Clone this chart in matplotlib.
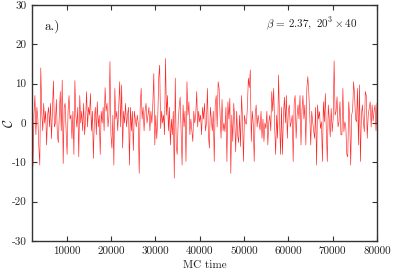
import numpy as np
import matplotlib
matplotlib.use("Agg")
import matplotlib.pyplot as plt

plt.rcParams["font.family"] = ["cmr10", "DejaVu Serif"]
plt.rcParams["mathtext.fontset"] = "cm"
plt.rcParams["axes.unicode_minus"] = False
plt.rcParams["axes.formatter.use_mathtext"] = True

# values, left to right
seg1 = [0, -11, 2, 7, -3, 4, 1, -6, -10.7, 14, 3, -2, 5, 0, 3, -5.6, 2, 4, -1, 5,
        -4, 3, 10.7, -1, 0, 6, -3, -5, 2, 8, -2, 10.9, -10.3, 4, 5, -2, -8, 3, 7, 1,
        2, -4, 3, -8, 10.8, 2, -1, 4, -8.6, 7, 0, 3, -2, 5, -3, 1, 8, -1, 4, 2]
seg2 = [7.5, -2, 3, -9, 1, 4, -3, 5.4, -1, 2, -8, 3, 0, 4, -2, 9, 3, 5, -1, 2,
        15.6, -3, -6.4, 2, -10.7, 8.8, 1, 3, -2, 4, 10.5, -1, 9.7, -6.4, 3, 0, 5, -1, 2, 4,
        -10.7, 4, -2, 3, -7, 3, 1, -1, 2, 0, -12.8, 4, 8.8, 1, 4, -2, 3, 5, 0, 2]
seg3 = [4, -2, 3, 0, 5, 12.6, -5.6, 2, -4, 1, 11.4, 14.7, -1.4, 3, 0, 2, -3, 16.4, 2, 7,
        -2, 4, -5.6, 1, -3, 3, -14, 11.4, -6, -8, 0.3, 4, 6.6, -2, -10.7, 4.6, -1, 3, -9.8, 10.5,
        2, 5.4, -3, 1, -2, -4.7, 3, 0, 2, 8, -1, 3, 0.3, 2, -3, 4, 1, 5, -2, 0]
seg4 = [8.8, -3, -6.4, 4, 1, -2, 3, -9.8, 4.6, 7, -1, 10.5, 8.8, 2, -3.9, 6, -2, 0, -2.2, 4,
        -9.8, 5.4, 1, 6.3, -12.8, 2, -4.7, 5, 1, -7.3, 3, -3, -5, 2, -6, 7, 1, -9.8, 2, 0,
        -0.3, 4, 11.4, 9, 13.5, -4.7, 3, 0, -9.8, 2, 4.6, -1, 2, 0, -1.8, 3, -3.9, 1, -4.7, 0]
seg5 = [-1.4, 3, -5.6, 0.3, 2, -2, 8, 3, 8.8, -1, -8, 2, -3.9, 12.2, 1, -8, 4, -8, 2, 6.6,
        0, 7, -3.9, 3, 4.6, -1, 0.3, 2, -9.8, 5, 7, -3.9, 2, 4.6, 1, 7, -5.6, 3, 7, 1,
        4.6, -5.6, 8.8, 11.8, 7.8, 2, -5.6, 3, 0.3, -2, -3.9, 4, -10.7, 4.6, 1, 2.9, -1.4, 0.3, -9.8, 5.4]
seg6 = [0.3, 7.5, -2, -9.8, 4.6, 1, -3.5, 3.7, -2.2, 1, 15.8, 2, 2.9, 6.7, -1, 0.3, 5.4, -3, -3, 8.8,
        -2.2, 0.3, -1, -8, -8.6, 5.4, 1.2, -10.7, 2, 3.3, 10.5, 7, 1, 0.3, 8.8, -5.6, 9.7, -9.8, 2, 4.6,
        0.3, -2.2, 8, 7, -3.9, 2, 3.7, 5.4, -1, 4.6, 0.5, 3, 4.6, -2, 5]
c_values = np.array(seg1 + seg2 + seg3 + seg4 + seg5 + seg6)

t_start, t_end = 2150, 80000
mc_time = np.linspace(t_start, t_end, len(c_values))

xticks = [10000, 20000, 30000, 40000, 50000, 60000, 70000, 80000]
yticks = [-30, -20, -10, 0, 10, 20, 30]

fig = plt.figure(figsize=(4.07, 2.73), dpi=100)
ax = fig.add_axes([32 / 407, 32 / 273, 345 / 407, 236 / 273])

ax.plot(mc_time, c_values, color="#ff0000", lw=0.45, alpha=0.85)

ax.set_xlim(t_start, t_end)
ax.set_ylim(-30, 30)
ax.set_xticks(xticks)
ax.set_yticks(yticks)
ax.set_xticklabels([str(t) for t in xticks])
ax.set_yticklabels([str(t) for t in yticks])
ax.tick_params(direction="in", length=3.5, width=0.8, top=True, right=True,
               labelsize=8, colors="#333333", labelcolor="#222222", pad=4)
for s in ax.spines.values():
    s.set_color("#333333")
    s.set_linewidth(1.0)

ax.set_xlabel("MC time", fontsize=8, color="#222222", labelpad=3)
ax.set_ylabel(r"$\mathcal{C}$", fontsize=10, color="#222222")
ax.yaxis.set_label_coords(-0.045, 0.5)

ax.text(0.035, 0.91, "a.)", transform=ax.transAxes, fontsize=9.5,
        ha="left", va="center", color="#222222")
ax.text(0.942, 0.92, r"$\beta\,=\,2.37,\ 20^3\times 40$", transform=ax.transAxes,
        fontsize=8, ha="right", va="center", color="#222222")

fig.savefig("out.png", dpi=100)
